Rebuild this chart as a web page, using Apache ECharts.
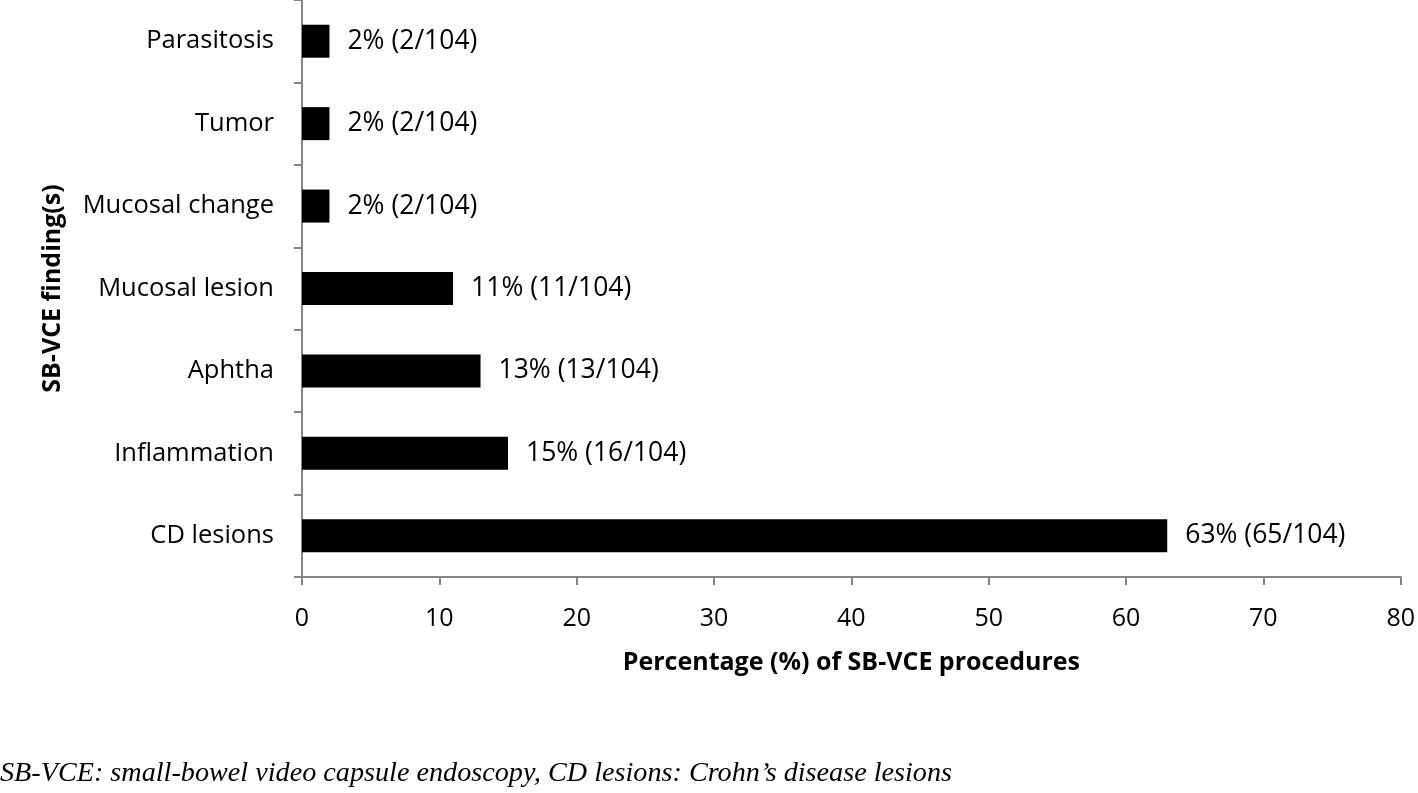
<!DOCTYPE html>
<html>
<head>
<meta charset="utf-8">
<script src="https://cdn.jsdelivr.net/npm/echarts@6/dist/echarts.min.js"></script>
<style>
html,body{margin:0;padding:0;background:#fff;}
#chart{width:1418px;height:793px;}
</style>
</head>
<body>
<div id="chart"></div>
<script>
var categories = ["CD lesions", "Inflammation", "Aphtha", "Mucosal lesion", "Mucosal change", "Tumor", "Parasitosis"];
var percentValues = [63, 15, 13, 11, 2, 2, 2];
var countValues = [65, 16, 13, 11, 2, 2, 2];
var totalProcedures = 104;
var xTicks = [0, 10, 20, 30, 40, 50, 60, 70, 80];

var chart = echarts.init(document.getElementById('chart'), null, {renderer: 'canvas'});
var FONT = 'Open Sans';
var axisGray = '#868686';
chart.setOption({
  animation: false,
  backgroundColor: '#ffffff',
  grid: {left: 302, right: 15, top: 0, bottom: 216, containLabel: false},
  title: {
    text: 'SB-VCE: small-bowel video capsule endoscopy, CD lesions: Crohn\u2019s disease lesions',
    left: 0, top: 760,
    padding: 0,
    textStyle: {fontFamily: 'Liberation Serif', fontStyle: 'italic', fontWeight: 'normal', fontSize: 28.2, color: '#000'}
  },
  xAxis: {
    type: 'value',
    min: xTicks[0], max: xTicks[xTicks.length - 1], interval: 10,
    name: 'Percentage (%) of SB-VCE procedures',
    nameLocation: 'middle', nameGap: 73,
    nameTextStyle: {fontFamily: FONT, fontWeight: 'bold', fontSize: 25, color: '#000'},
    axisLine: {show: true, lineStyle: {color: axisGray, width: 2}},
    axisTick: {show: true, length: 8, lineStyle: {color: axisGray, width: 2}},
    splitLine: {show: false},
    axisLabel: {fontFamily: FONT, fontSize: 25, color: '#000', margin: 29}
  },
  yAxis: {
    type: 'category',
    data: categories,
    name: 'SB-VCE finding(s)',
    nameLocation: 'middle', nameGap: 237,
    nameTextStyle: {fontFamily: FONT, fontWeight: 'bold', fontSize: 25, color: '#000'},
    axisLine: {show: true, lineStyle: {color: axisGray, width: 2}},
    axisTick: {show: true, length: 8, alignWithLabel: false, lineStyle: {color: axisGray, width: 2}},
    axisLabel: {fontFamily: FONT, fontSize: 25.5, color: '#000', margin: 28, padding: [3, 0, 0, 0]}
  },
  series: [{
    type: 'bar',
    data: percentValues,
    barWidth: 33,
    itemStyle: {color: '#000'},
    label: {
      show: true, position: 'right', distance: 18,
      fontFamily: FONT, fontSize: 26.5, color: '#000', padding: [3, 0, 0, 0],
      formatter: function (p) { return percentValues[p.dataIndex] + '% (' + countValues[p.dataIndex] + '/' + totalProcedures + ')'; }
    }
  }]
});
</script>
</body>
</html>
